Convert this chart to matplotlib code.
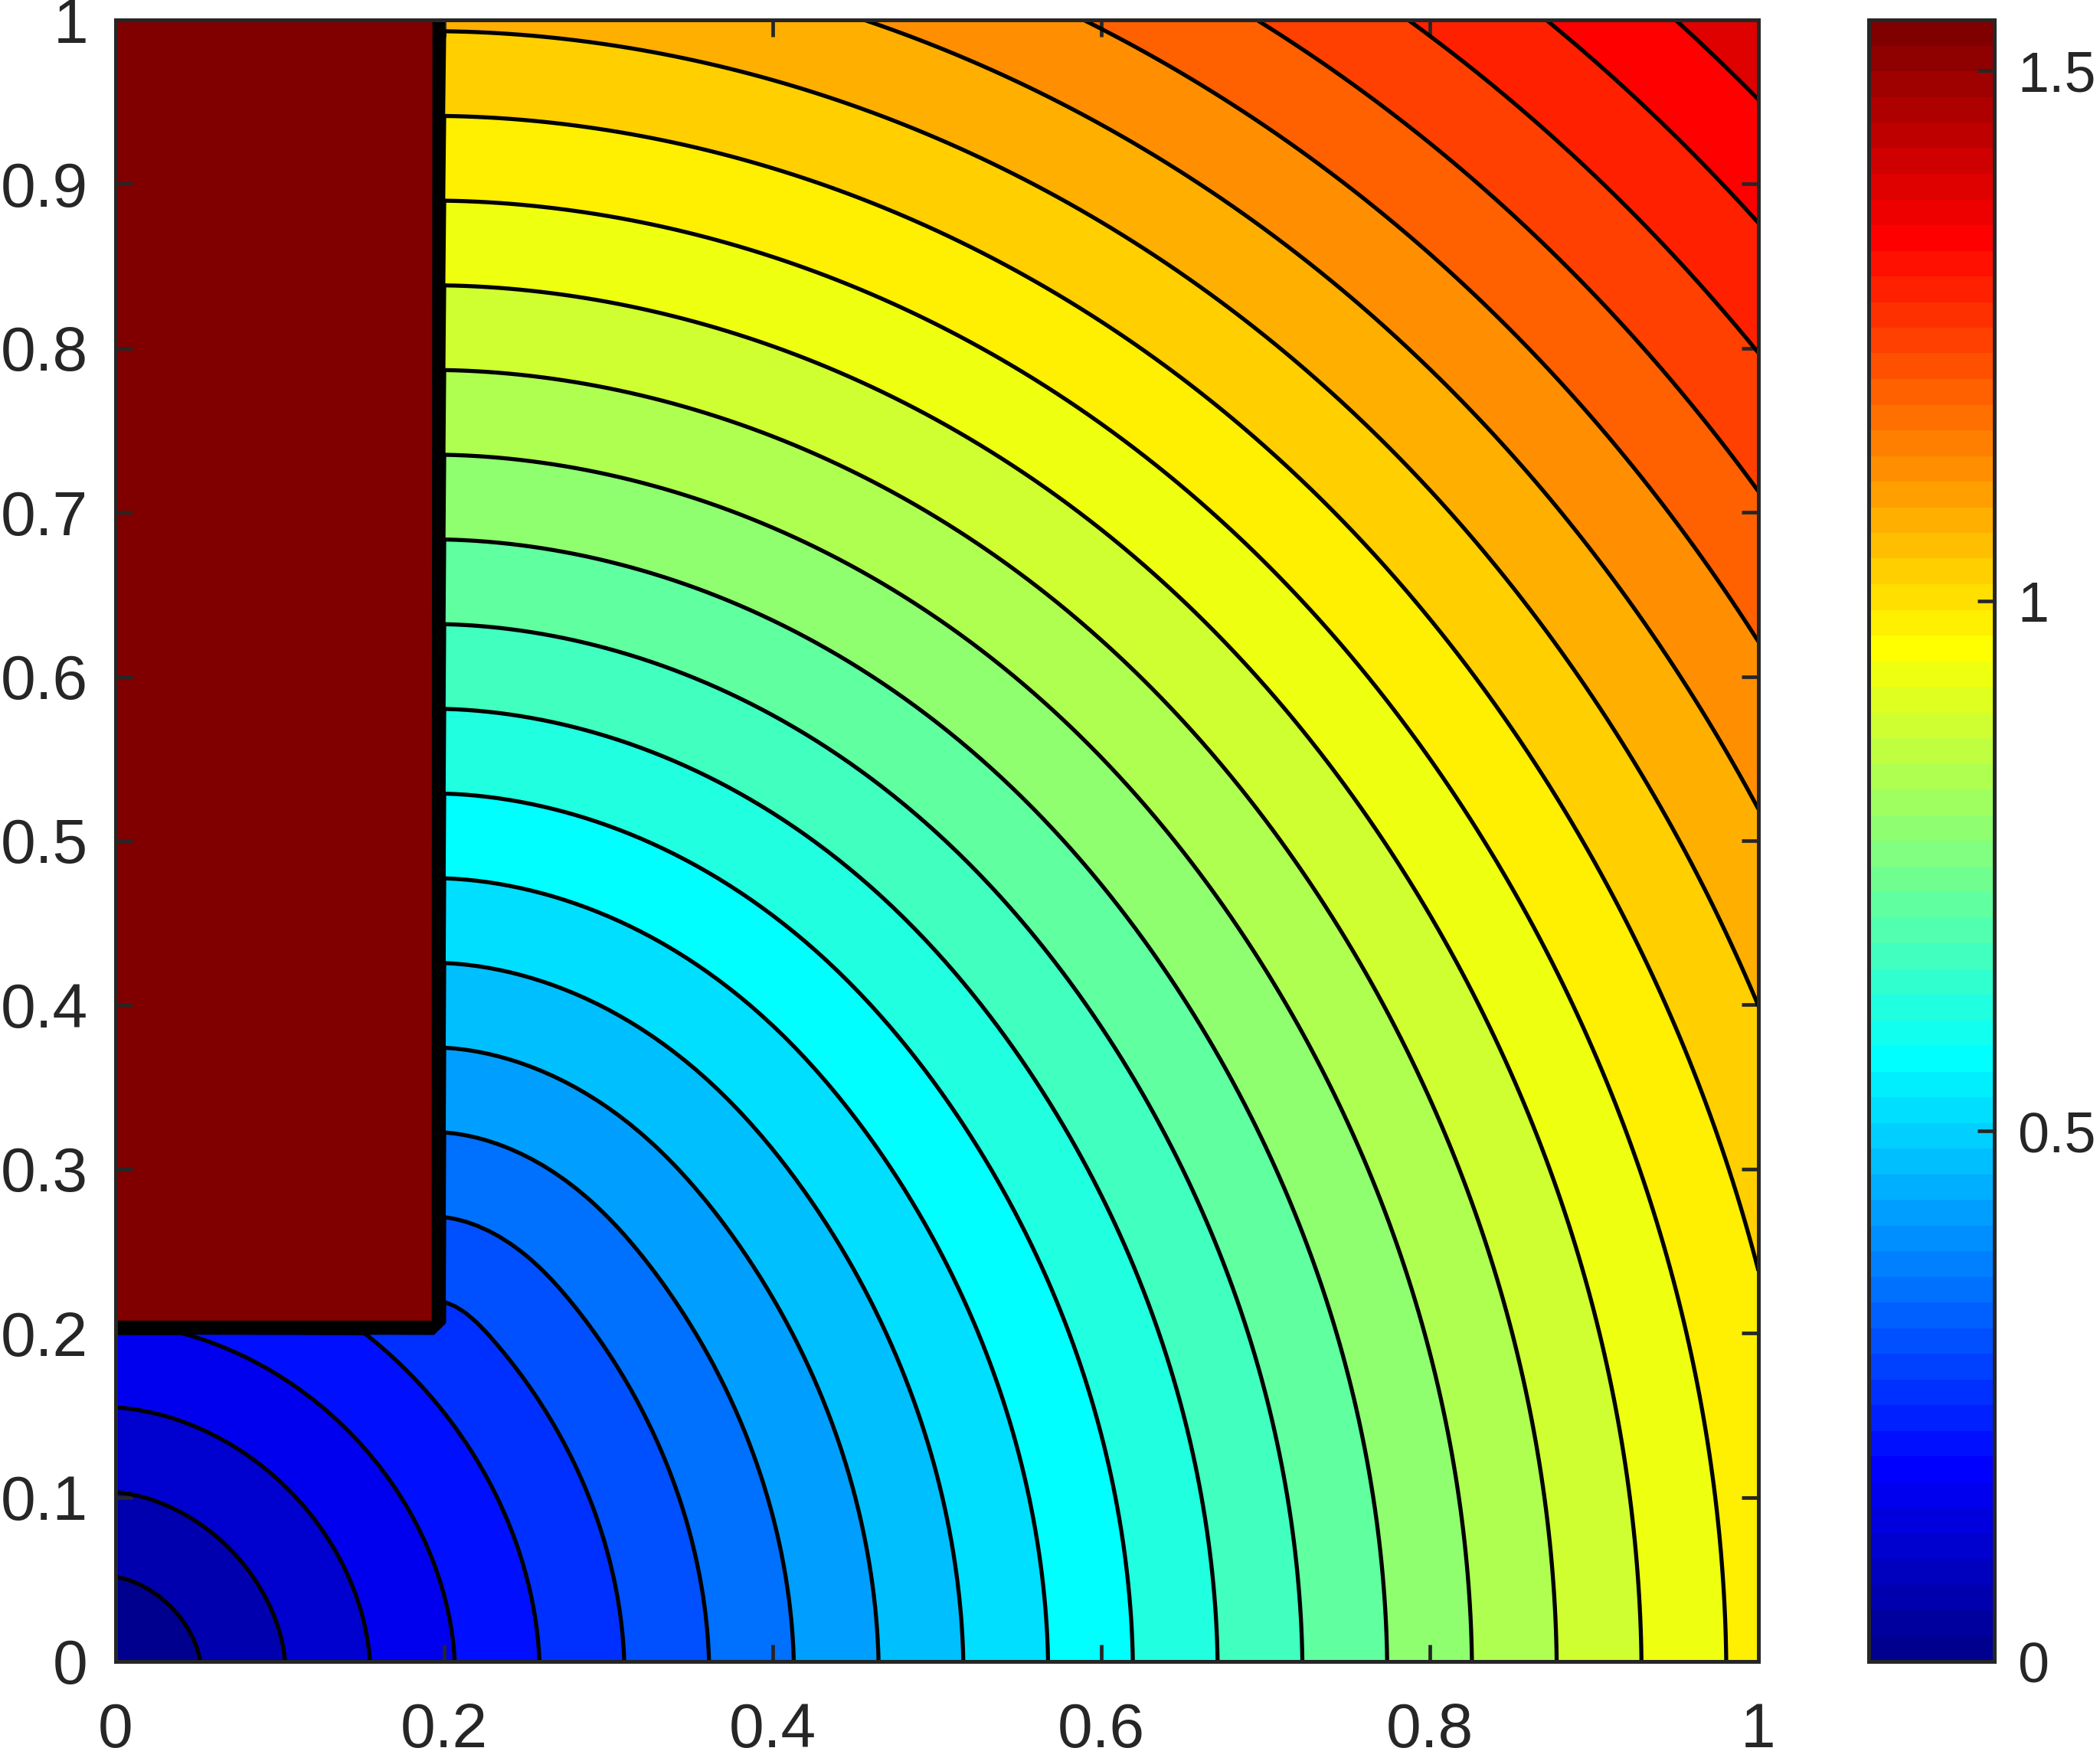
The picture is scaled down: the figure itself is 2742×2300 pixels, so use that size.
import heapq
import numpy as np
import matplotlib
matplotlib.use("Agg")
import matplotlib.pyplot as plt
from matplotlib.colors import ListedColormap, Normalize
from matplotlib.cm import ScalarMappable

plt.rcParams['font.family'] = ['Liberation Sans', 'DejaVu Sans']

# domain / obstacle set-up
GRID_N = 151
OBST_X = (0.0, 0.2)
OBST_Y = (0.2, 1.0)
SOURCE = (0, 0)        # grid node of the source (row, col)
Z_MAX = 1.548          # top of the colour bar, also the value inside the block
N_LEVELS = 30

xticks = [0, 0.2, 0.4, 0.6, 0.8, 1]
yticks = [0, 0.1, 0.2, 0.3, 0.4, 0.5, 0.6, 0.7, 0.8, 0.9, 1]
cbar_ticks = [0, 0.5, 1, 1.5]

AX_COL = '#262626'


def matlab_jet(m=64):
    n = int(np.ceil(m / 4))
    u = np.concatenate([np.arange(1, n + 1) / n, np.ones(n - 1), np.arange(n, 0, -1) / n])
    g = int(np.ceil(n / 2)) - (1 if m % 4 == 1 else 0) + np.arange(1, len(u) + 1)
    r = g + n
    b = g - n
    J = np.zeros((m, 3))
    for ch, idx in ((0, r), (1, g), (2, b)):
        ok = (idx >= 1) & (idx <= m)
        J[idx[ok] - 1, ch] = u[ok]
    return J


def fast_march(blocked, h, src):
    # first order fast marching for |grad T| = 1
    n = blocked.shape[0]
    T = [[np.inf] * n for _ in range(n)]
    state = [[3 if blocked[i, j] else 0 for j in range(n)] for i in range(n)]
    T[src[0]][src[1]] = 0.0
    heap = [(0.0, src[0], src[1])]

    def known(i, j):
        if 0 <= i < n and 0 <= j < n and state[i][j] == 2:
            return T[i][j]
        return np.inf

    while heap:
        t, i, j = heapq.heappop(heap)
        if state[i][j] == 2:
            continue
        state[i][j] = 2
        for a, b in ((i + 1, j), (i - 1, j), (i, j + 1), (i, j - 1)):
            if not (0 <= a < n and 0 <= b < n) or state[a][b] >= 2:
                continue
            tx = min(known(a, b - 1), known(a, b + 1))
            ty = min(known(a - 1, b), known(a + 1, b))
            if abs(tx - ty) >= h:
                new = min(tx, ty) + h
            else:
                new = 0.5 * (tx + ty + np.sqrt(2 * h * h - (tx - ty) ** 2))
            if new < T[a][b]:
                T[a][b] = new
                state[a][b] = 1
                heapq.heappush(heap, (new, a, b))
    return np.array(T)


jet64 = matlab_jet(64)

x = np.linspace(0, 1, GRID_N)
X, Y = np.meshgrid(x, x)
eps = 1e-9
block = (X < OBST_X[1] - eps) & (Y > OBST_Y[0] + eps)
Z = fast_march(block, x[1] - x[0], SOURCE)
Z[block] = Z_MAX

levels = np.linspace(0, Z_MAX, N_LEVELS + 1)
fill_levels = np.append(levels[:-1], [Z_MAX - 1e-6, Z_MAX + 1e-6])
band_cols = [jet64[min(int(np.floor(L / Z_MAX * 64)), 63)] for L in fill_levels[:-1]]

fig = plt.figure(figsize=(27.42, 23), dpi=100)
ax = fig.add_axes([151 / 2742, 130 / 2300, 2145 / 2742, 2144 / 2300])

ax.contourf(X, Y, Z, levels=fill_levels, colors=band_cols)
ax.contour(X, Y, Z, levels=levels[1:-1], colors='k', linewidths=3.8)

ax.set_xlim(0, 1)
ax.set_ylim(0, 1)
ax.set_xticks(xticks)
ax.set_yticks(yticks)
ax.set_xticklabels([f"{v:g}" for v in xticks])
ax.set_yticklabels([f"{v:g}" for v in yticks])
ax.tick_params(direction='in', top=True, right=True, length=15.8, width=3.4,
               color=AX_COL, labelcolor=AX_COL, labelsize=59)
ax.tick_params(axis='x', pad=38)
ax.tick_params(axis='y', pad=26)
for s in ax.spines.values():
    s.set_linewidth(3.6)
    s.set_edgecolor(AX_COL)

cax = fig.add_axes([2440 / 2742, 130 / 2300, 164 / 2742, 2144 / 2300])
sm = ScalarMappable(norm=Normalize(0, Z_MAX), cmap=ListedColormap(jet64))
cb = fig.colorbar(sm, cax=cax)
cb.set_ticks(cbar_ticks)
cb.set_ticklabels([f"{v:g}" for v in cbar_ticks])
cb.ax.tick_params(direction='in', length=15.8, width=3.4, color=AX_COL,
                  labelcolor=AX_COL, labelsize=53, pad=22)
cb.outline.set_linewidth(3.6)
cb.outline.set_edgecolor(AX_COL)

fig.savefig("out.png", dpi=100)
